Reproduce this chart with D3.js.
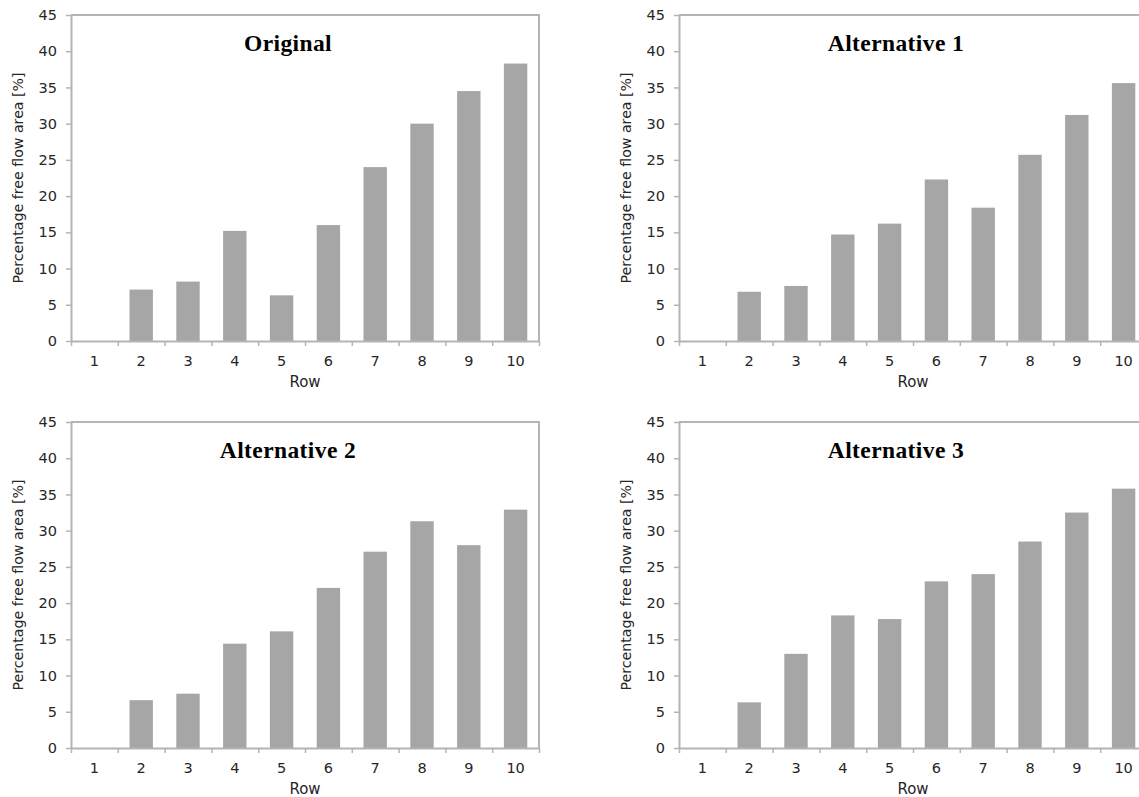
<!DOCTYPE html>
<html lang="en">
<head>
<meta charset="utf-8">
<title>Percentage free flow area per row</title>
<script src="https://d3js.org/d3.v7.min.js"></script>
<style>
  body { margin: 0; background: #fff; }
</style>
</head>
<body>
<script>
// data
const rows = ["1", "2", "3", "4", "5", "6", "7", "8", "9", "10"];
const yTicks = [0, 5, 10, 15, 20, 25, 30, 35, 40, 45];
const titles = ["Original", "Alternative 1", "Alternative 2", "Alternative 3"];
const original = [0, 7.1, 8.2, 15.2, 6.3, 16.0, 24.0, 30.0, 34.5, 38.3];
const alternative1 = [0, 6.8, 7.6, 14.7, 16.2, 22.3, 18.4, 25.7, 31.2, 35.6];
const alternative2 = [0, 6.6, 7.5, 14.4, 16.1, 22.1, 27.1, 31.3, 28.0, 32.9];
const alternative3 = [0, 6.3, 13.0, 18.3, 17.8, 23.0, 24.0, 28.5, 32.5, 35.8];
const series = [original, alternative1, alternative2, alternative3];

const width = 1139, height = 797;
const plotW = 468, plotH = 326;
// top-left corner of each plot area
const origins = [[71, 15], [679, 15], [71, 422], [679, 422]];

const svg = d3.select("body").append("svg")
    .attr("width", width)
    .attr("height", height)
    .style("display", "block");

const axisColor = "#b4b4b4";
const textColor = "#262626";
const labelFont = "'DejaVu Sans', sans-serif";

series.forEach(function(values, i) {
    const x0 = origins[i][0], y0 = origins[i][1];
    const g = svg.append("g").attr("transform", "translate(" + x0 + "," + y0 + ")");

    const x = d3.scaleBand().domain(rows).range([0, plotW]).paddingInner(0.5).paddingOuter(0.25);
    const xEdge = d3.scaleLinear().domain([0, 10]).range([0, plotW]);
    const y = d3.scaleLinear().domain([0, 45]).range([plotH, 0]);

    // plot border (top and right)
    g.append("path")
        .attr("d", "M0,0H" + plotW + "V" + plotH)
        .attr("fill", "none")
        .attr("stroke", axisColor)
        .attr("stroke-width", 2);

    // bars
    g.selectAll("rect.bar")
        .data(values)
        .enter().append("rect")
        .attr("class", "bar")
        .attr("x", function(d, j) { return x(rows[j]); })
        .attr("width", x.bandwidth())
        .attr("y", function(d) { return y(d); })
        .attr("height", function(d) { return plotH - y(d); })
        .attr("fill", "#a6a6a6");

    // y axis
    const yAxis = g.append("g")
        .call(d3.axisLeft(y).tickValues(yTicks).tickSize(5).tickPadding(9).tickSizeOuter(0));
    yAxis.select(".domain").attr("stroke", axisColor).attr("stroke-width", 2);
    yAxis.selectAll(".tick line").attr("stroke", axisColor).attr("stroke-width", 1.5);
    yAxis.selectAll("text")
        .attr("fill", textColor)
        .style("font-family", labelFont)
        .style("font-size", "14.5px");

    // x axis: tick marks at category edges
    const xTicksG = g.append("g")
        .attr("transform", "translate(0," + plotH + ")")
        .call(d3.axisBottom(xEdge).tickValues(d3.range(11)).tickSize(5).tickSizeOuter(0).tickFormat(""));
    xTicksG.select(".domain").attr("stroke", axisColor).attr("stroke-width", 2);
    xTicksG.selectAll(".tick line").attr("stroke", axisColor).attr("stroke-width", 1.5);

    // x axis: category labels
    const xLabels = g.append("g")
        .attr("transform", "translate(0," + plotH + ")")
        .call(d3.axisBottom(x).tickSize(0).tickPadding(15));
    xLabels.select(".domain").remove();
    xLabels.selectAll("text")
        .attr("fill", textColor)
        .style("font-family", labelFont)
        .style("font-size", "14.5px");

    // axis titles
    g.append("text")
        .text("Row")
        .attr("x", plotW / 2)
        .attr("y", plotH + 46)
        .attr("text-anchor", "middle")
        .attr("fill", textColor)
        .style("font-family", labelFont)
        .style("font-size", "15px");

    g.append("text")
        .text("Percentage free flow area [%]")
        .attr("transform", "translate(-48," + (plotH / 2) + ") rotate(-90)")
        .attr("text-anchor", "middle")
        .attr("fill", textColor)
        .style("font-family", labelFont)
        .style("font-size", "14.2px");

    // panel title
    g.append("text")
        .text(titles[i])
        .attr("x", plotW / 2 - 17)
        .attr("y", 36)
        .attr("text-anchor", "middle")
        .attr("fill", "#000")
        .style("font-family", "'Liberation Serif', serif")
        .style("font-weight", "bold")
        .style("letter-spacing", "0.4px")
        .style("font-size", "23.5px");
});
</script>
</body>
</html>
